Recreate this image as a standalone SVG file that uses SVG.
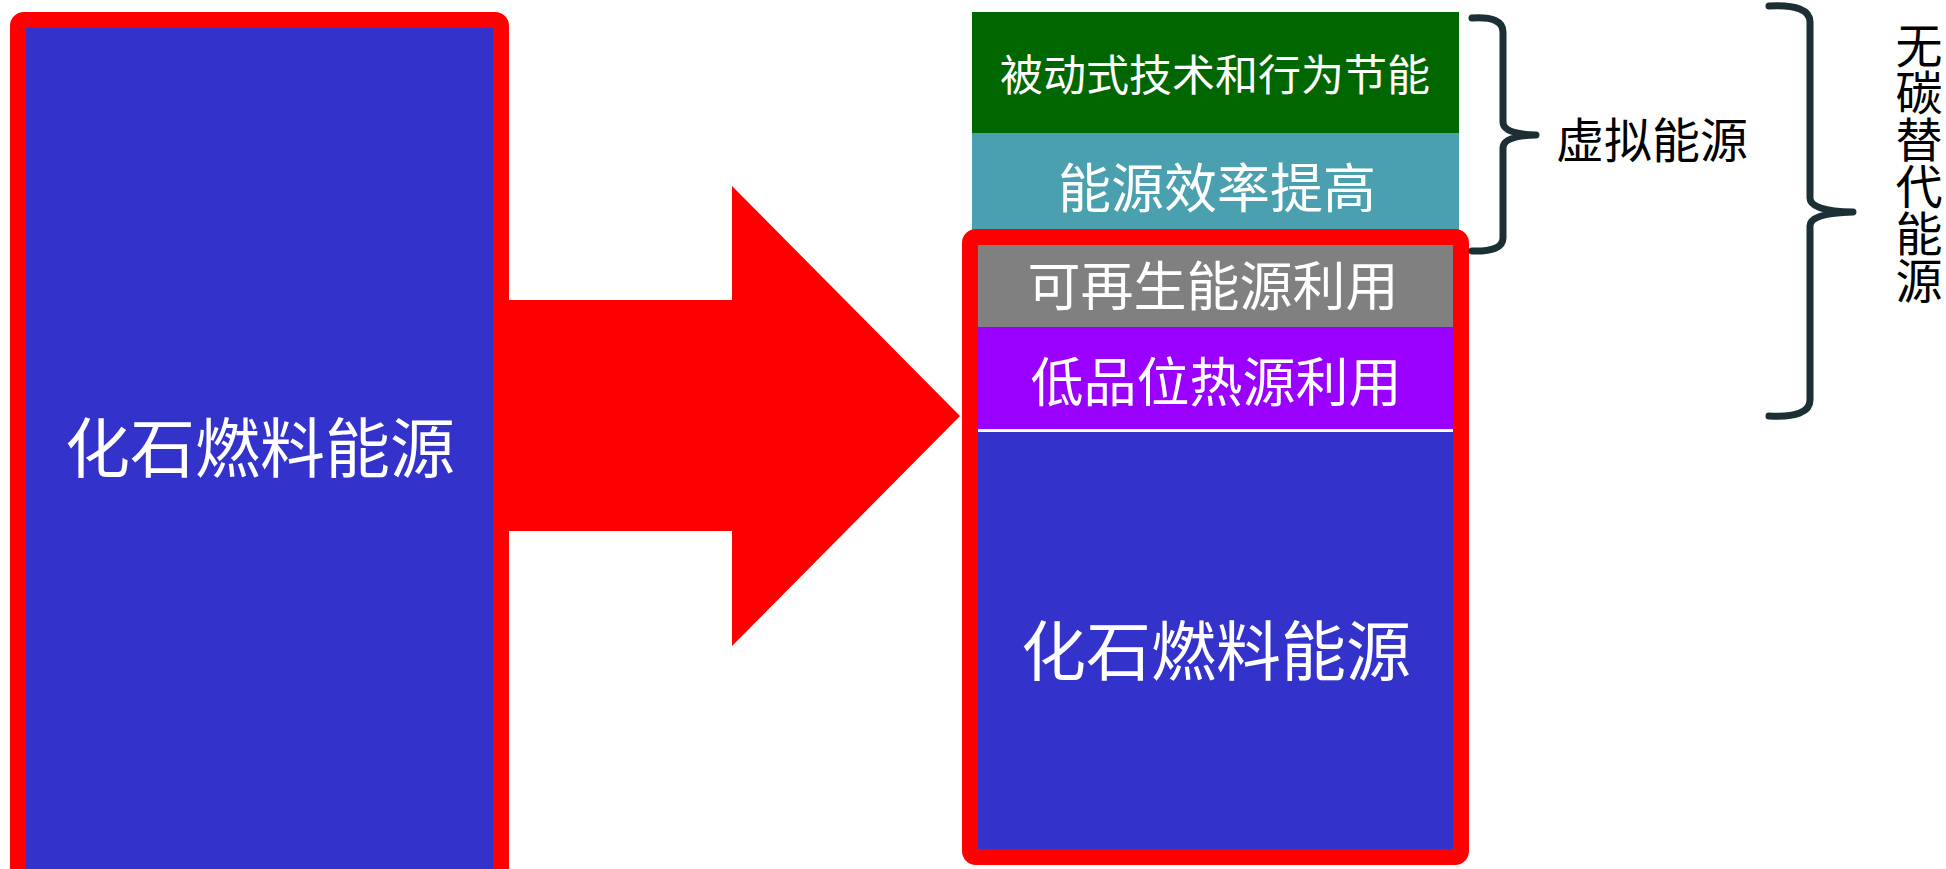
<svg xmlns="http://www.w3.org/2000/svg" width="1946" height="869" viewBox="0 0 1946 869">
<style>
.t{fill:#ffffff;font-family:"Noto Sans CJK SC","Noto Sans",sans-serif;text-anchor:middle}
.k{fill:#000000;font-family:"Noto Sans CJK SC","Noto Sans",sans-serif}
.frame{fill:none;stroke:#ff0000;stroke-width:16}
.brace{fill:none;stroke:#1b2f35;stroke-width:7;stroke-linecap:round;stroke-linejoin:round}
</style>
<rect width="1946" height="869" fill="#ffffff"/>
<g id="connectors">
<polygon points="501,300 732,300 732,186 960,416 732,646 732,531 501,531" fill="#ff0000"/>
</g>
<g id="left-fossil">
<rect x="18" y="20" width="483" height="860" rx="6" fill="#3333cc"/>
<rect class="frame" x="18" y="20" width="483" height="860" rx="6"/>
<text class="t" x="260" y="472" font-size="65">化石燃料能源</text>
</g>
<g id="passive">
<rect x="972" y="12" width="487" height="121" fill="#006600"/>
<text class="t" x="1215" y="91" font-size="43">被动式技术和行为节能</text>
</g>
<g id="efficiency">
<rect x="972" y="133" width="487" height="112" fill="#4aa0ae"/>
<text class="t" x="1217" y="208" font-size="53">能源效率提高</text>
</g>
<g id="right-stack">
<rect x="970" y="237" width="491" height="620" fill="#ffffff"/>
<g id="renewable">
<rect x="978" y="245" width="475" height="82" fill="#808080"/>
<text class="t" x="1213" y="306" font-size="53">可再生能源利用</text>
</g>
<g id="lowgrade">
<rect x="978" y="327" width="475" height="102" fill="#9900ff"/>
<text class="t" x="1216" y="402" font-size="53">低品位热源利用</text>
</g>
<g id="right-fossil">
<rect x="978" y="432" width="475" height="417" fill="#3333cc"/>
<text class="t" x="1216" y="675" font-size="65">化石燃料能源</text>
</g>
<rect class="frame" x="970" y="237" width="491" height="620" rx="6"/>
</g>
<g id="virtual-brace">
<path class="brace" d="M1472,18 Q1503,16 1503,32 L1503,122 Q1503,134 1536,135 Q1503,136 1503,148 L1503,238 Q1503,252 1472,251"/>
<text class="k" x="1652" y="158" font-size="48" text-anchor="middle">虚拟能源</text>
</g>
<g id="carbonfree-brace">
<path class="brace" d="M1769,6 Q1810,4 1810,22 L1810,198 Q1810,211 1853,212 Q1810,213 1810,226 L1810,400 Q1810,418 1769,416"/>
<text class="k" x="1919" y="22" font-size="47" style="writing-mode:vertical-rl">无碳替代能源</text>
</g>
</svg>
